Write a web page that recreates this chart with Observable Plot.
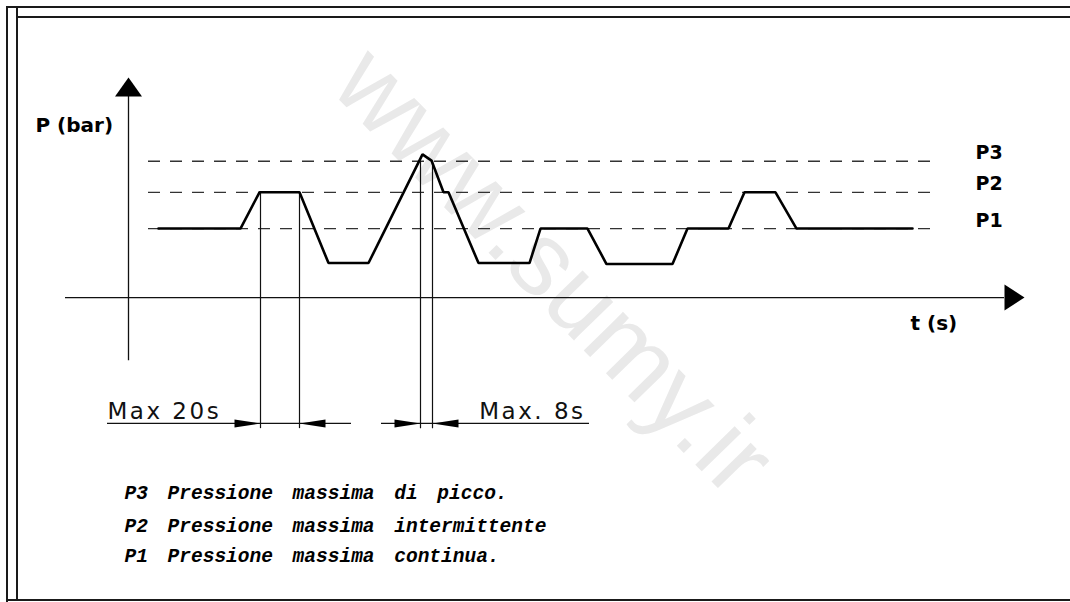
<!DOCTYPE html>
<html><head><meta charset="utf-8">
<script src="https://cdn.jsdelivr.net/npm/d3@7"></script>
<script src="https://cdn.jsdelivr.net/npm/@observablehq/plot@0.6"></script>
<style>
body{margin:0;background:#fff;}
#wrap{position:relative;width:1070px;height:602px;overflow:hidden;background:#fff;}
#wrap svg{position:absolute;left:0;top:0;}
.fl{position:absolute;background:#1a1a1a;}
</style></head><body>
<div id="wrap">
<div id="chart"></div>
<div class="fl" style="left:6px;top:6px;width:1064px;height:2px"></div>
<div class="fl" style="left:16px;top:16px;width:1054px;height:2px"></div>
<div class="fl" style="left:6px;top:6px;width:2px;height:596px"></div>
<div class="fl" style="left:16px;top:6px;width:2px;height:594px"></div>
<div class="fl" style="left:6px;top:599px;width:1064px;height:2px"></div>
</div>
<script>
// Pressure trace (time in arbitrary units, pressure in arbitrary bar units)
const traceT = [3, 11.2, 13.1, 17.1, 20, 24, 29.4, 30.3, 31.5, 32, 35, 40.1, 41.2, 45.9, 47.8, 54.4, 55.9, 60, 61.6, 64.7, 66.8, 78.4];
const traceP = [2, 2, 3.05, 3.05, 1, 1, 4.15, 3.97, 3.05, 3.05, 1, 1, 2, 2, 0.97, 0.97, 2, 2, 3.05, 3.05, 2, 2];

// Reference pressure levels
const levelNames = ["P3", "P2", "P1"];
const levelValues = [3.95, 3.05, 2];
const levelStart = 2, levelEnd = 80.4;

// Axes extents
const yAxisT = 0, yAxisFrom = -1.83, yAxisTo = 5.83;
const xAxisP = 0, xAxisFrom = -6.3, xAxisTo = 87.6;

// Dimension (duration) markers
const dimT = [13.2, 17.1, 29.2, 30.4];
const dimTop = [3.05, 3.05, 3.95, 3.95];
const dimDir = ["right", "left", "right", "left"];
const dimBottom = -3.8;
const dimLineP = -3.65;
const dimSegFrom = [-2.1, 25.3];
const dimSegTo = [22.3, 46.1];
const dimLabelLeft = "Max 20s", dimLabelLeftT = -2.1;
const dimLabelRight = "Max. 8s", dimLabelRightT = 45.7;
const dimLabelP = -3.51;

// Legend texts
const legendLines = ["P3 Pressione massima di picco.", "P2 Pressione massima intermittente", "P1 Pressione massima continua."];
const legendP = [-5.65, -6.61, -7.48];
const legendT = -0.4;

const trace = traceT.map((t, i) => ({t, p: traceP[i]}));
const levels = levelNames.map((n, i) => ({name: n, p: levelValues[i]}));
const dims = dimT.map((t, i) => ({t, top: dimTop[i], dir: dimDir[i]}));
const dimSegs = dimSegFrom.map((a, i) => ({a, b: dimSegTo[i]}));
const legend = legendLines.map((s, i) => ({s, p: legendP[i]}));

const headUp = {draw(c){ c.moveTo(0,-19); c.lineTo(13.5,0); c.lineTo(-13.5,0); c.closePath(); }};
const headRight = {draw(c){ c.moveTo(20,0); c.lineTo(0,13); c.lineTo(0,-13); c.closePath(); }};
const dimRight = {draw(c){ c.moveTo(0,0); c.lineTo(-26,-4); c.lineTo(-26,4); c.closePath(); }};
const dimLeft = {draw(c){ c.moveTo(0,0); c.lineTo(26,-4); c.lineTo(26,4); c.closePath(); }};

const ink = "#111";
const dimFont = {lineAnchor: "bottom", fontFamily: "DejaVu Sans", fontSize: 23, fill: ink};
const plot = Plot.plot({
  width: 1070, height: 602, margin: 0,
  x: {domain: [-12.8, 94.2], axis: null},
  y: {domain: [-8.84, 8.61], axis: null},
  style: {background: "transparent"},
  marks: [
    // watermark (underneath)
    Plot.text(["www.sumy.ir"], {x: 42.5, y: 0.75, text: d => d, rotate: 45.7, textAnchor: "middle", lineAnchor: "middle", fontFamily: "Liberation Sans", fontSize: 104, fill: "#e9e9e9"}),
    // dashed levels
    Plot.ruleY(levels, {y: "p", x1: levelStart, x2: levelEnd, stroke: "#333", strokeWidth: 1.3, strokeDasharray: "12 10"}),
    // axes
    Plot.ruleX([yAxisT], {y1: yAxisFrom, y2: yAxisTo, stroke: ink, strokeWidth: 1.3}),
    Plot.ruleY([xAxisP], {x1: xAxisFrom, x2: xAxisTo, stroke: ink, strokeWidth: 1.3}),
    Plot.dot([{t: yAxisT, p: yAxisTo}], {x: "t", y: "p", r: 1, symbol: headUp, fill: "#000", stroke: "none"}),
    Plot.dot([{t: xAxisTo, p: xAxisP}], {x: "t", y: "p", r: 1, symbol: headRight, fill: "#000", stroke: "none"}),
    // dimension lines
    Plot.ruleX(dims, {x: "t", y1: "top", y2: dimBottom, stroke: ink, strokeWidth: 1.2}),
    Plot.ruleY(dimSegs, {y: dimLineP, x1: "a", x2: "b", stroke: ink, strokeWidth: 1.2}),
    Plot.dot(dims.filter(d => d.dir === "right"), {x: "t", y: dimLineP, r: 1, symbol: dimRight, fill: "#000", stroke: "none"}),
    Plot.dot(dims.filter(d => d.dir === "left"), {x: "t", y: dimLineP, r: 1, symbol: dimLeft, fill: "#000", stroke: "none"}),
    Plot.text([dimLabelLeft], {x: dimLabelLeftT, y: dimLabelP, text: d => d, textAnchor: "start", ...dimFont}),
    Plot.text([dimLabelRight], {x: dimLabelRightT, y: dimLabelP, text: d => d, textAnchor: "end", ...dimFont}),
    // pressure trace
    Plot.line(trace, {x: "t", y: "p", stroke: "#000", strokeWidth: 2.6, strokeLinejoin: "miter", curve: "linear"}),
    // labels
    Plot.text(levels, {x: 84.7, y: "p", text: "name", textAnchor: "start", lineAnchor: "middle", dy: -8, fontFamily: "DejaVu Sans", fontWeight: "bold", fontSize: 19, fill: "#000"}),
    Plot.text(["P (bar)"], {x: -9.3, y: 4.99, text: d => d, textAnchor: "start", lineAnchor: "middle", fontFamily: "DejaVu Sans", fontWeight: "bold", fontSize: 20, fill: "#000"}),
    Plot.text(["t (s)"], {x: 78.2, y: -0.75, text: d => d, textAnchor: "start", lineAnchor: "middle", fontFamily: "DejaVu Sans", fontWeight: "bold", fontSize: 20, fill: "#000"}),
    Plot.text(legend, {x: legendT, y: "p", text: "s", textAnchor: "start", lineAnchor: "middle", fontFamily: "Liberation Mono", fontWeight: "bold", fontStyle: "italic", fontSize: 19.5, fill: "#000"})
  ]
});
d3.select(plot).selectAll("text").each(function() {
  const s = this.textContent;
  if (s.startsWith("Max")) d3.select(this).style("letter-spacing", "2.5px");
  if (s.indexOf("Pressione") >= 0) d3.select(this).style("word-spacing", "8px");
});
document.getElementById("chart").appendChild(plot);
</script>
</body></html>
